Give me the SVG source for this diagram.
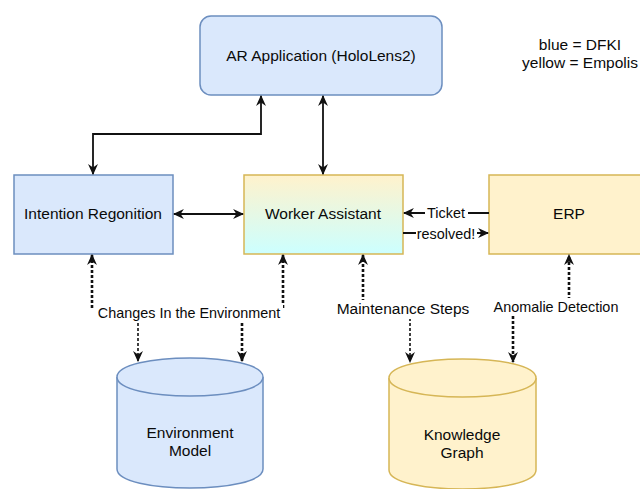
<svg xmlns="http://www.w3.org/2000/svg" width="640" height="489" viewBox="0 0 640 489">
<style>
text{font-family:"Liberation Sans",Arial,sans-serif;fill:#0a0a0a;text-anchor:middle}
.n{font-size:15.5px}
.l{font-size:14.4px}
.blue{fill:#dae8fc;stroke:#6c8ebf;stroke-width:1.5}
.yel{fill:#fff2cc;stroke:#d6b656;stroke-width:1.5}
.s{fill:none;stroke:#111;stroke-width:1.8}
.d{fill:none;stroke:#111;stroke-width:2.6;stroke-dasharray:3 2}
.dt{fill:none;stroke:#111;stroke-width:1.6;stroke-dasharray:3 2}
.bg{fill:#fff}
</style>
<defs>
<linearGradient id="wg" x1="0" y1="0" x2="0" y2="1">
<stop offset="0" stop-color="#fff2cc"/>
<stop offset="1" stop-color="#ccffff"/>
</linearGradient>
<marker id="a" viewBox="0 0 10 10" refX="9" refY="5" markerWidth="11" markerHeight="11" markerUnits="userSpaceOnUse" orient="auto-start-reverse">
<path d="M0,0.5 L10,5 L0,9.5 L3,5 Z" fill="#111"/>
</marker>
</defs>

<g id="legend">
<text class="n" x="580" y="50">blue = DFKI</text>
<text class="n" x="580" y="68">yellow = Empolis</text>
</g>

<g id="ar-app">
<rect class="blue" x="200" y="16" width="242" height="79" rx="11"/>
<text class="n" x="321" y="61">AR Application (HoloLens2)</text>
</g>

<g id="intention">
<rect class="blue" x="14" y="175" width="159" height="79"/>
<text class="n" x="93" y="219">Intention Regonition</text>
</g>

<g id="worker">
<rect x="244" y="175" width="159" height="79" fill="url(#wg)" stroke="#d6b656" stroke-width="1.5"/>
<text class="n" x="323" y="219">Worker Assistant</text>
</g>

<g id="erp">
<rect class="yel" x="489" y="175" width="160" height="79"/>
<text class="n" x="569" y="219">ERP</text>
</g>

<g id="env-model">
<path class="blue" d="M117,377 C117,351.7 263,351.7 263,377 L263,469 C263,494.3 117,494.3 117,469 Z"/>
<path class="blue" fill="none" d="M117,377 C117,402.3 263,402.3 263,377"/>
<text class="n" x="190" y="438">Environment</text>
<text class="n" x="190" y="456">Model</text>
</g>

<g id="knowledge-graph">
<path class="yel" d="M389,378 C389,352.7 536,352.7 536,378 L536,470 C536,495.3 389,495.3 389,470 Z"/>
<path class="yel" fill="none" d="M389,378 C389,403.3 536,403.3 536,378"/>
<text class="n" x="462" y="440">Knowledge</text>
<text class="n" x="462" y="458">Graph</text>
</g>

<g id="connectors">
<path class="s" d="M93,174 L93,134 L261,134 L261,96" marker-start="url(#a)" marker-end="url(#a)"/>
<path class="s" d="M323,96 L323,174" marker-start="url(#a)" marker-end="url(#a)"/>
<path class="s" d="M174,214 L243,214" marker-start="url(#a)" marker-end="url(#a)"/>
<path class="s" d="M489,213 L404,213" marker-end="url(#a)"/>
<rect class="bg" x="425" y="204" width="43" height="17"/>
<text class="l" x="446" y="218">Ticket</text>
<path class="s" d="M403,233 L488,233" marker-end="url(#a)"/>
<rect class="bg" x="416" y="225" width="61" height="17"/>
<text class="l" x="446" y="239">resolved!</text>

<path class="d" d="M92,308 L92,255" marker-end="url(#a)"/>
<path class="d" d="M283,308 L283,255" marker-end="url(#a)"/>
<path class="dt" d="M138,318 L138,361" marker-end="url(#a)"/>
<path class="d" d="M242,318 L242,361" marker-end="url(#a)"/>
<rect class="bg" x="96" y="304" width="187" height="17"/>
<text class="l" x="189" y="318">Changes In the Environment</text>

<path class="d" d="M363,302 L363,255" marker-end="url(#a)"/>
<path class="dt" d="M410,318 L410,362" marker-end="url(#a)"/>
<rect class="bg" x="333" y="300" width="140" height="19"/>
<text class="n" x="403" y="314">Maintenance Steps</text>

<path class="d" d="M569,300 L569,255" marker-end="url(#a)"/>
<path class="d" d="M513,316 L513,362" marker-end="url(#a)"/>
<rect class="bg" x="491" y="298" width="130" height="18"/>
<text class="l" x="556" y="312">Anomalie Detection</text>
</g>
</svg>
